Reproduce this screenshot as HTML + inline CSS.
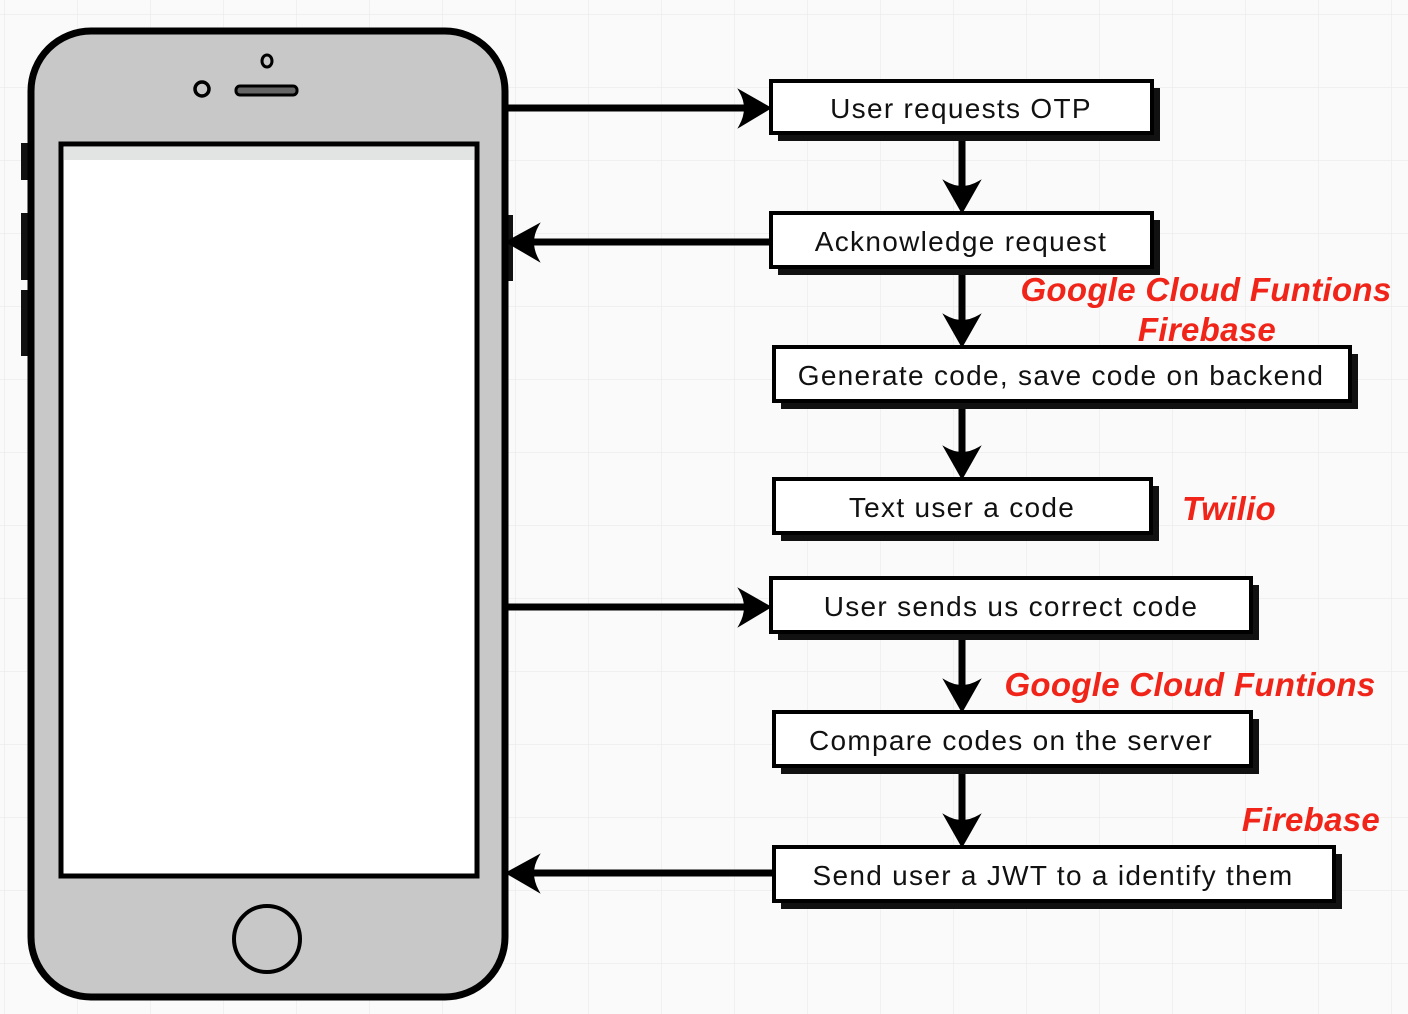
<!DOCTYPE html>
<html><head><meta charset="utf-8"><style>
html,body{margin:0;padding:0;background:#fff;}
svg{display:block}
.t{font-family:"Liberation Sans",sans-serif;font-size:28px;fill:#111;text-anchor:middle;letter-spacing:1.3px}
.r{font-family:"Liberation Sans",sans-serif;font-size:33px;font-weight:bold;font-style:italic;fill:#f02418;text-anchor:middle;letter-spacing:0.3px}
</style></head><body>
<svg width="1408" height="1014" viewBox="0 0 1408 1014" xmlns="http://www.w3.org/2000/svg">
<defs>
<pattern id="g" width="73" height="73" patternUnits="userSpaceOnUse" x="5" y="15">
<path d="M73 0V73M0 73H73" stroke="#ececec" stroke-width="1.5" fill="none"/>
</pattern>
</defs>
<rect width="1408" height="1014" fill="#fafafa"/>
<rect width="1408" height="1014" fill="url(#g)"/>
<rect x="21" y="143" width="10" height="37" fill="#111"/>
<rect x="21" y="213" width="10" height="67" fill="#111"/>
<rect x="21" y="290" width="10" height="66" fill="#111"/>
<rect x="503" y="215" width="10" height="66" fill="#111"/>
<rect x="31" y="31" width="474" height="966" rx="60" fill="#c8c8c8" stroke="#000" stroke-width="7"/>
<rect x="61" y="144" width="416" height="732" fill="#fff" stroke="#000" stroke-width="5"/>
<rect x="64" y="147" width="410" height="13" fill="#e2e4e4"/>
<circle cx="202" cy="89" r="7" fill="none" stroke="#000" stroke-width="3.5"/>
<ellipse cx="267" cy="61" rx="5" ry="6" fill="none" stroke="#000" stroke-width="3"/>
<rect x="236" y="86" width="61" height="9" rx="4" fill="#666" stroke="#000" stroke-width="3"/>
<circle cx="267" cy="939" r="33" fill="none" stroke="#000" stroke-width="4"/>

<g fill="#000" stroke="#000">
<line x1="507" y1="108" x2="750" y2="108" stroke-width="7"/>
<path d="M770 108 L740 91 Q750 108 740 126 Z" stroke-width="2"/>
<line x1="530" y1="242" x2="772" y2="242" stroke-width="7"/>
<path d="M507 242 L538 225 Q528 242 538 260 Z" stroke-width="2"/>
<line x1="507" y1="607" x2="750" y2="607" stroke-width="7"/>
<path d="M770 607 L740 590 Q750 607 740 625 Z" stroke-width="2"/>
<line x1="530" y1="873" x2="775" y2="873" stroke-width="7"/>
<path d="M507 873 L538 856 Q528 873 538 891 Z" stroke-width="2"/>
<g stroke-width="7">
<line x1="962" y1="138" x2="962" y2="190"/>
<line x1="962" y1="272" x2="962" y2="325"/>
<line x1="962" y1="407" x2="962" y2="458"/>
<line x1="962" y1="638" x2="962" y2="690"/>
<line x1="962" y1="772" x2="962" y2="825"/>
</g>
<g stroke-width="2">
<path d="M962 212 L945 182 Q962 192 979 182 Z"/>
<path d="M962 346 L945 316 Q962 326 979 316 Z"/>
<path d="M962 478 L945 448 Q962 458 979 448 Z"/>
<path d="M962 711 L945 681 Q962 691 979 681 Z"/>
<path d="M962 846 L945 816 Q962 826 979 816 Z"/>
</g>
</g>

<g>
<rect x="778" y="88" width="382" height="53" fill="#111"/>
<rect x="771" y="81" width="381" height="52" fill="#fff" stroke="#000" stroke-width="4"/>
<rect x="778" y="220" width="382" height="55" fill="#111"/>
<rect x="771" y="213" width="381" height="54" fill="#fff" stroke="#000" stroke-width="4"/>
<rect x="781" y="354" width="577" height="55" fill="#111"/>
<rect x="774" y="347" width="576" height="54" fill="#fff" stroke="#000" stroke-width="4"/>
<rect x="781" y="486" width="378" height="55" fill="#111"/>
<rect x="774" y="479" width="377" height="54" fill="#fff" stroke="#000" stroke-width="4"/>
<rect x="778" y="585" width="481" height="55" fill="#111"/>
<rect x="771" y="578" width="480" height="54" fill="#fff" stroke="#000" stroke-width="4"/>
<rect x="781" y="719" width="478" height="55" fill="#111"/>
<rect x="774" y="712" width="477" height="54" fill="#fff" stroke="#000" stroke-width="4"/>
<rect x="781" y="854" width="561" height="55" fill="#111"/>
<rect x="774" y="847" width="560" height="54" fill="#fff" stroke="#000" stroke-width="4"/>
</g>
<text class="t" x="961" y="118">User requests OTP</text>
<text class="t" x="961" y="251">Acknowledge request</text>
<text class="t" x="1061" y="385">Generate code, save code on backend</text>
<text class="t" x="962" y="517">Text user a code</text>
<text class="t" x="1011" y="616">User sends us correct code</text>
<text class="t" x="1011" y="750">Compare codes on the server</text>
<text class="t" x="1053" y="885">Send user a JWT to a identify them</text>

<text class="r" x="1206" y="301">Google Cloud Funtions</text>
<text class="r" x="1207" y="341">Firebase</text>
<text class="r" x="1229" y="520">Twilio</text>
<text class="r" x="1190" y="696">Google Cloud Funtions</text>
<text class="r" x="1311" y="831">Firebase</text>
</svg>
</body></html>
